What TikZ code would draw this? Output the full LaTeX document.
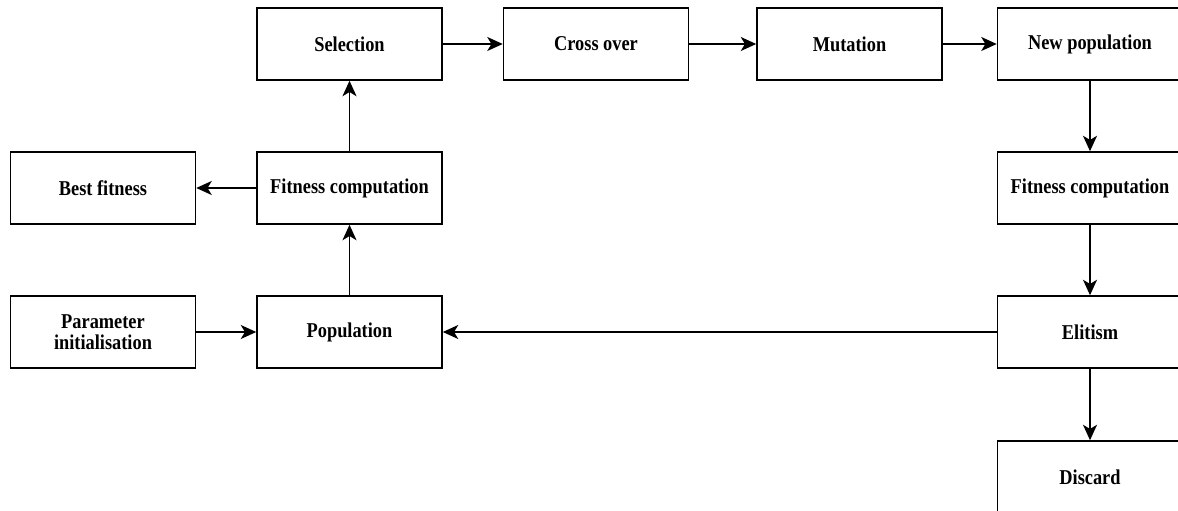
\documentclass[tikz,border=0pt]{standalone}
\usepackage{fontspec}
\setmainfont[FakeStretch=0.87]{Liberation Serif}
\usetikzlibrary{arrows.meta}

\begin{document}
\begin{tikzpicture}[x = 0.025cm, y = -0.025cm, >= {Stealth[length=11pt,width=10pt,inset=3pt]}, line width = 1.1pt,
    box/.style = {draw, line width = 1.1pt, minimum width = 4.625cm, minimum height = 1.8cm,
      align = center, font = \fontsize{15}{15}\selectfont\bfseries}]
      \useasboundingbox (0, 0) rectangle (1178, 511);
      \clip (0, 0) rectangle (1178, 511);
      % left part
      \node[box] (best) at (103, 188) {Best fitness};
      \node[box] (param) at (103, 332) {Parameter\\initialisation};
      \node[box] (select) at (349.5, 44) {Selection};
      \node[box] (fitL) at (349.5, 188) {Fitness computation};
      \node[box] (pop) at (349.5, 332) {Population};
      % top row
      \node[box] (cross) at (596, 44) {Cross over};
      \node[box] (mutate) at (849.5, 44) {Mutation};
      % right column
      \node[box] (newpop) at (1090, 44) {New population};
      \node[box] (fitR) at (1090, 188) {Fitness computation};
      \node[box] (elite) at (1090, 332) {Elitism};
      \node[box] (discard) at (1090, 477) {Discard};
      % arrows
      \draw[->] (param) -- (pop);
      \draw[->] (pop) -- (fitL);
      \draw[->] (fitL) -- (best);
      \draw[->] (fitL) -- (select);
      \draw[->] (select) -- (cross);
      \draw[->] (cross) -- (mutate);
      \draw[->] (mutate) -- (newpop);
      \draw[->] (newpop) -- (fitR);
      \draw[->] (fitR) -- (elite);
      \draw[->] (elite) -- (pop);
      \draw[->] (elite) -- (discard);
    \end{tikzpicture}
\end{document}
